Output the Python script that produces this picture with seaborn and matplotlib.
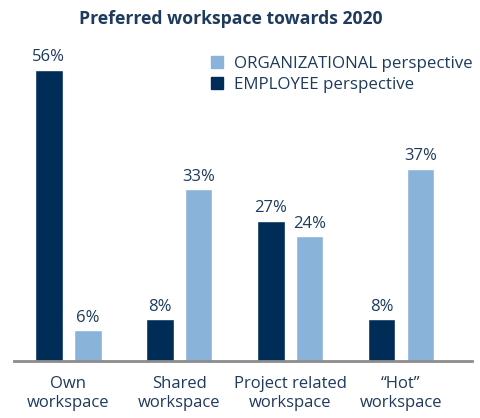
import matplotlib
matplotlib.use("Agg")
import matplotlib.pyplot as plt
from matplotlib.patches import Patch
import seaborn as sns
import pandas as pd

categories = ["Own\nworkspace", "Shared\nworkspace", "Project related\nworkspace", "\u201cHot\u201d\nworkspace"]
employee = [56, 8, 27, 8]
organizational = [6, 33, 24, 37]
series = ["EMPLOYEE perspective", "ORGANIZATIONAL perspective"]

navy = "#002D57"
light = "#8AB3DA"
textcol = "#1E3A5C"

df = pd.DataFrame({
    "category": categories * 2,
    "value": employee + organizational,
    "series": [series[0]] * 4 + [series[1]] * 4,
})

sns.set_style("white")
plt.rcParams["font.family"] = ["Open Sans", "DejaVu Sans"]

fig = plt.figure(figsize=(4.8, 4.18), dpi=100)
ax = fig.add_axes([14 / 480, 1 - 361 / 418, 458 / 480, (361 - 53) / 418])

sns.barplot(data=df, x="category", y="value", hue="series", hue_order=series,
            palette=[navy, light], width=0.7, gap=0.29, ax=ax, legend=False,
            saturation=1)

for cont in ax.containers:
    ax.bar_label(cont, labels=["{}%".format(int(v)) for v in cont.datavalues],
                 padding=3, fontsize=12, color=textcol)

ax.set_xlim(-0.49, 3.64)
ax.set_ylim(0, 59.2)
ax.set_xlabel("")
ax.set_ylabel("")
ax.set_yticks([])
ax.tick_params(axis="x", length=0, labelsize=12, labelcolor=textcol, pad=11)
for s in ["top", "right", "left"]:
    ax.spines[s].set_visible(False)
ax.spines["bottom"].set_color("#8c8c8c")
ax.spines["bottom"].set_linewidth(2)

handles = [Patch(color=light, label=series[1]), Patch(color=navy, label=series[0])]
leg = ax.legend(handles=handles, loc="upper left", bbox_to_anchor=(190 / 458, 1.013),
                frameon=False, fontsize=12.2, handlelength=0.75, handleheight=0.75,
                handletextpad=0.6, labelspacing=0.3, borderaxespad=0)
for t in leg.get_texts():
    t.set_color(textcol)

fig.suptitle("Preferred workspace towards 2020", x=0.48, y=0.975, fontsize=12.7,
             fontweight="bold", color=textcol)

fig.savefig("out.png", dpi=100)
